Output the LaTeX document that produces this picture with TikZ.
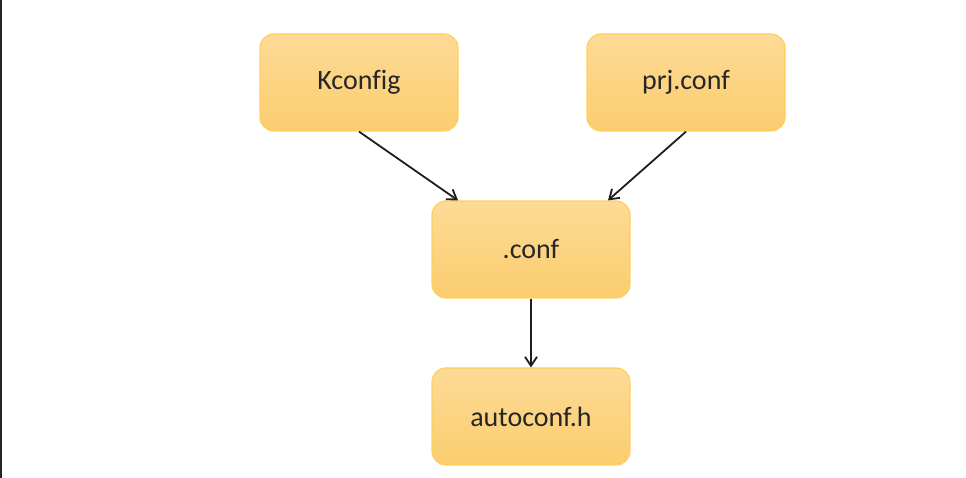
\documentclass[tikz,border=0pt]{standalone}
\usepackage{fontspec}
\setmainfont[Ligatures=NoCommon]{Carlito}
\usepackage{xcolor}
\definecolor{boxtop}{RGB}{253, 218, 150}
\definecolor{boxbot}{RGB}{251, 205, 110}
\definecolor{boxline}{RGB}{255, 208, 90}
\definecolor{arrcol}{RGB}{30, 30, 30}
\usetikzlibrary{arrows.meta}

\tikzset{
  filebox/.style={rectangle, rounded corners=14pt, draw=boxline, line width=1.2pt,
    top color=boxtop, bottom color=boxbot,
    minimum width=198pt, minimum height=97pt,
    font=\fontsize{28}{32}\selectfont, text=black!85},
  flow/.style={-{Straight Barb[length=9pt,width=12pt,line width=1.8pt]},
    line width=1.8pt, draw=arrcol}
}

\begin{document}
\begin{tikzpicture}[x=1pt,y=1pt]
\useasboundingbox
  (0,0) rectangle (966,478);
\draw [line width=2pt, black!85] (1,0) -- (1,478);

\node [filebox] (kconfig) at (359,395.5) {Kconfig};
\node [filebox] (prjconf) at (686,395.5) {prj.conf};
\node [filebox] (conf) at (531,228.5) {.conf};
\node [filebox] (autoconf) at (531,61.5) {autoconf.h};

\draw [flow] (kconfig.south) -- ([xshift=-73pt]conf.north);
\draw [flow] (prjconf.south) -- ([xshift=77pt]conf.north);
\draw [flow] (conf.south) -- (autoconf.north);
\end{tikzpicture}
\end{document}
